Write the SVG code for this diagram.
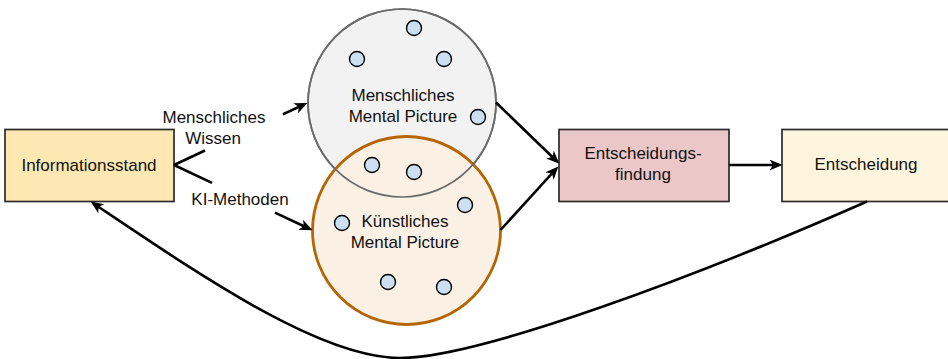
<svg xmlns="http://www.w3.org/2000/svg" width="948" height="359" viewBox="0 0 948 359">
  <defs>
    <marker id="arrow" viewBox="0 0 13 11" refX="9.5" refY="5.5" markerWidth="13" markerHeight="11" markerUnits="userSpaceOnUse" orient="auto">
      <path d="M0,0 L13,5.5 L0,11 L3.5,5.5 Z" fill="#000"/>
    </marker>
    <style>
      text { font-family: "Liberation Sans", Arial, sans-serif; font-size: 17px; fill: #111; text-anchor: middle; }
      .box { stroke: #2b2b2b; stroke-width: 1.7; }
      .dot { fill: #cde0f1; stroke: #000; stroke-width: 1.4; }
      .edge { fill: none; stroke: #000; stroke-width: 2.6; }
    </style>
  </defs>

  <!-- Informationsstand -->
  <g id="informationsstand">
    <rect class="box" x="5" y="129.5" width="169" height="72" fill="#fde8b3"/>
    <text x="89" y="171">Informationsstand</text>
  </g>

  <!-- human mental picture (grey circle) -->
  <g id="menschliches-mental-picture">
    <circle cx="402" cy="103" r="94" fill="#f2f2f2" stroke="#6b6b6b" stroke-width="1.7"/>
  </g>

  <!-- artificial mental picture (orange circle) -->
  <g id="kuenstliches-mental-picture">
    <circle cx="406.5" cy="230.5" r="94" fill="#faf0e4" stroke="#b46504" stroke-width="2.8"/>
  </g>

  <!-- grey outline repeated on top so the overlap arc stays visible -->
  <circle cx="402" cy="103" r="94" fill="none" stroke="#6b6b6b" stroke-width="1.7"/>

  <g id="menschliches-label">
    <text x="403" y="101">Menschliches</text>
    <text x="403" y="122">Mental Picture</text>
  </g>
  <g id="kuenstliches-label">
    <text x="405" y="227">Künstliches</text>
    <text x="405" y="248">Mental Picture</text>
  </g>

  <!-- knowledge points -->
  <g id="points">
    <circle class="dot" cx="414" cy="28" r="7.5"/>
    <circle class="dot" cx="357" cy="59" r="7.5"/>
    <circle class="dot" cx="444" cy="59" r="7.5"/>
    <circle class="dot" cx="478" cy="117" r="7.5"/>
    <circle class="dot" cx="372" cy="165" r="7.5"/>
    <circle class="dot" cx="414" cy="172" r="7.5"/>
    <circle class="dot" cx="465" cy="205" r="7.5"/>
    <circle class="dot" cx="342" cy="223" r="7.5"/>
    <circle class="dot" cx="388" cy="282" r="7.5"/>
    <circle class="dot" cx="444" cy="287" r="7.5"/>
  </g>

  <!-- Entscheidungsfindung -->
  <g id="entscheidungsfindung">
    <rect class="box" x="559" y="129.5" width="170" height="72" fill="#ebc7c7"/>
    <text x="643" y="159">Entscheidungs-</text>
    <text x="643" y="180">findung</text>
  </g>

  <!-- Entscheidung -->
  <g id="entscheidung">
    <rect class="box" x="782" y="129.5" width="170" height="72" fill="#fdf5dd"/>
    <text x="866" y="170">Entscheidung</text>
  </g>

  <!-- connectors -->
  <g id="connectors">
    <!-- Informationsstand to human picture, split around its label -->
    <line class="edge" x1="174" y1="165" x2="205" y2="150.5"/>
    <line class="edge" x1="283" y1="114.2" x2="304.3" y2="104.4" marker-end="url(#arrow)"/>
    <!-- Informationsstand to artificial picture, split around its label -->
    <line class="edge" x1="174" y1="165" x2="212" y2="182.9"/>
    <line class="edge" x1="275" y1="212.6" x2="309.3" y2="228.7" marker-end="url(#arrow)"/>
    <!-- pictures to decision making -->
    <line class="edge" x1="496" y1="102.5" x2="556.8" y2="161.2" marker-end="url(#arrow)"/>
    <line class="edge" x1="500.5" y1="230" x2="556" y2="169" marker-end="url(#arrow)"/>
    <!-- decision making to decision -->
    <line class="edge" x1="729" y1="165" x2="779" y2="165" marker-end="url(#arrow)"/>
    <!-- feedback loop -->
    <path class="edge" d="M867,201.5 C700,275 480,358 400,358 C320,358 200,275 93.5,203.5" marker-end="url(#arrow)"/>
  </g>

  <!-- edge labels -->
  <g id="edge-labels">
    <text x="214" y="123">Menschliches</text>
    <text x="213" y="144">Wissen</text>
    <text x="240" y="205">KI-Methoden</text>
  </g>
</svg>
